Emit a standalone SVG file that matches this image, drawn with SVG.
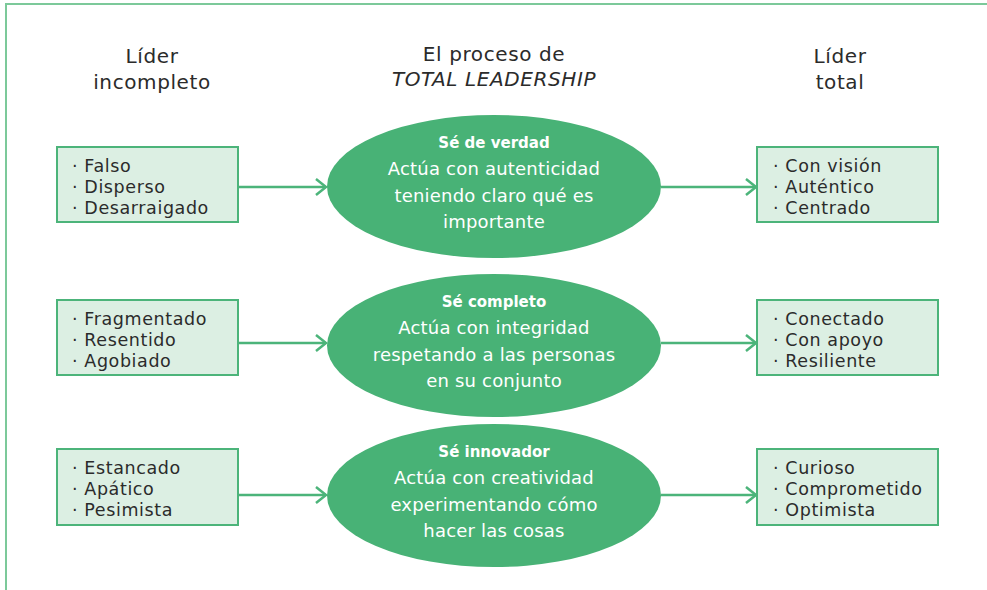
<svg xmlns="http://www.w3.org/2000/svg" width="987" height="590" viewBox="0 0 987 590">
<style>
.hd{font-family:"DejaVu Sans","Liberation Sans",sans-serif;font-size:20px;letter-spacing:0.6px;fill:#2b2b2b;text-anchor:middle}
.it{font-style:italic}
.bx{fill:#dcefe3;stroke:#4cb47a;stroke-width:2}
.bt{font-family:"DejaVu Sans","Liberation Sans",sans-serif;font-size:17.5px;letter-spacing:0.6px;fill:#2b2b2b}
.el{fill:#48b276}
.et{font-family:"DejaVu Sans","Liberation Sans",sans-serif;font-size:18px;letter-spacing:0.2px;fill:#ffffff;text-anchor:middle}
.eb{font-weight:bold;font-size:15px;letter-spacing:0}
.cn{stroke:#4cb47a;stroke-width:2.5;fill:none}
</style>
<defs>
<marker id="ah" markerWidth="14" markerHeight="20" refX="12" refY="10" orient="auto" markerUnits="userSpaceOnUse">
<path d="M2,2 L12,10 L2,18" fill="none" stroke="#4cb47a" stroke-width="2.5"/>
</marker>
</defs>
<path d="M6,590 L6,4 L987,4" fill="none" stroke="#7cc99a" stroke-width="2"/>
<g id="headers">
<text class="hd" x="152" y="63">Líder</text>
<text class="hd" x="152" y="89">incompleto</text>
<text class="hd" x="494" y="61">El proceso de</text>
<text class="hd it" x="494" y="86">TOTAL LEADERSHIP</text>
<text class="hd" x="840" y="63">Líder</text>
<text class="hd" x="840" y="89">total</text>
</g>
<g id="connectors">
<line class="cn" x1="238" y1="187" x2="326" y2="187" marker-end="url(#ah)"/>
<line class="cn" x1="661" y1="187" x2="756" y2="187" marker-end="url(#ah)"/>
<line class="cn" x1="238" y1="343" x2="326" y2="343" marker-end="url(#ah)"/>
<line class="cn" x1="661" y1="343" x2="756" y2="343" marker-end="url(#ah)"/>
<line class="cn" x1="238" y1="495" x2="326" y2="495" marker-end="url(#ah)"/>
<line class="cn" x1="661" y1="495" x2="756" y2="495" marker-end="url(#ah)"/>
</g>
<g id="left1">
<rect class="bx" x="57" y="147" width="181" height="75"/>
<text class="bt" x="72" y="172">· Falso</text>
<text class="bt" x="72" y="193">· Disperso</text>
<text class="bt" x="72" y="214">· Desarraigado</text>
</g>
<g id="left2">
<rect class="bx" x="57" y="300" width="181" height="75"/>
<text class="bt" x="72" y="325">· Fragmentado</text>
<text class="bt" x="72" y="346">· Resentido</text>
<text class="bt" x="72" y="367">· Agobiado</text>
</g>
<g id="left3">
<rect class="bx" x="57" y="449" width="181" height="76"/>
<text class="bt" x="72" y="474">· Estancado</text>
<text class="bt" x="72" y="495">· Apático</text>
<text class="bt" x="72" y="516">· Pesimista</text>
</g>
<g id="center1">
<ellipse class="el" cx="494" cy="186.5" rx="167" ry="71.5"/>
<text class="et eb" x="494" y="148">Sé de verdad</text>
<text class="et" x="494" y="175">Actúa con autenticidad</text>
<text class="et" x="494" y="202">teniendo claro qué es</text>
<text class="et" x="494" y="228">importante</text>
</g>
<g id="center2">
<ellipse class="el" cx="494" cy="345.5" rx="167" ry="71.5"/>
<text class="et eb" x="494" y="307">Sé completo</text>
<text class="et" x="494" y="334">Actúa con integridad</text>
<text class="et" x="494" y="361">respetando a las personas</text>
<text class="et" x="494" y="387">en su conjunto</text>
</g>
<g id="center3">
<ellipse class="el" cx="494" cy="495.5" rx="167" ry="71.5"/>
<text class="et eb" x="494" y="457">Sé innovador</text>
<text class="et" x="494" y="484">Actúa con creatividad</text>
<text class="et" x="494" y="511">experimentando cómo</text>
<text class="et" x="494" y="537">hacer las cosas</text>
</g>
<g id="right1">
<rect class="bx" x="757" y="147" width="181" height="75"/>
<text class="bt" x="773" y="172">· Con visión</text>
<text class="bt" x="773" y="193">· Auténtico</text>
<text class="bt" x="773" y="214">· Centrado</text>
</g>
<g id="right2">
<rect class="bx" x="757" y="300" width="181" height="75"/>
<text class="bt" x="773" y="325">· Conectado</text>
<text class="bt" x="773" y="346">· Con apoyo</text>
<text class="bt" x="773" y="367">· Resiliente</text>
</g>
<g id="right3">
<rect class="bx" x="757" y="449" width="181" height="76"/>
<text class="bt" x="773" y="474">· Curioso</text>
<text class="bt" x="773" y="495">· Comprometido</text>
<text class="bt" x="773" y="516">· Optimista</text>
</g>
</svg>
